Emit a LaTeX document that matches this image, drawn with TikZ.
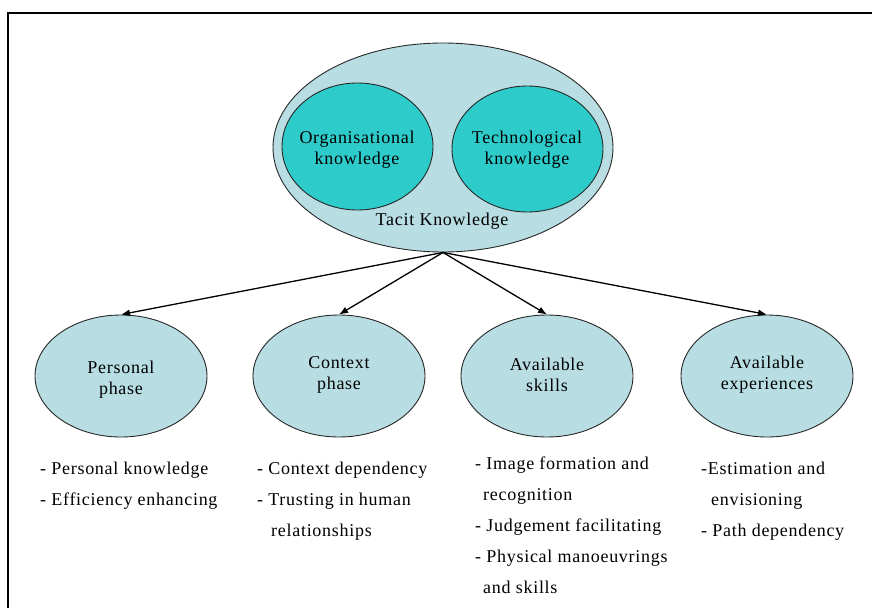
\documentclass[tikz,border=0pt]{standalone}
\usepackage{fontspec}
\setmainfont{Liberation Serif}[LetterSpace=4]
\usetikzlibrary{shapes.geometric,arrows.meta}
\definecolor{paleblue}{RGB}{184,222,227}
\definecolor{teal}{RGB}{46,203,203}
\definecolor{edge}{RGB}{40,40,40}
\begin{document}
\begin{tikzpicture}[x=1pt,y=-1pt,
  txt/.style={font=\fontsize{18}{21}\selectfont,text=black,align=center,inner sep=0pt},
  blob/.style={ellipse,draw=edge,line width=0.9pt,inner sep=0pt},
  outerblob/.style={blob,fill=paleblue},
  innerblob/.style={blob,fill=teal},
  phase/.style={blob,fill=paleblue,minimum width=172pt,minimum height=122pt},
  items/.style={txt,anchor=north west,align=left,
    font=\fontsize{18}{31}\selectfont},
  link/.style={draw=black,line width=1.3pt,-{Latex[length=9pt,width=7pt]}},
  frame/.style={draw=black,line width=1.6pt}]
\useasboundingbox (0,0) rectangle (872,610);
\path[fill=white] (0,0) rectangle (872,610);

% open frame: top and left rules
\coordinate (fa) at (872,13);
\coordinate (fb) at (8,13);
\coordinate (fc) at (8,608);
\draw[frame] (fa) -- (fb) -- (fc);

% tacit knowledge with its two parts
\node[outerblob,minimum width=340pt,minimum height=209pt] (tacit) at (443,147.5) {};
\node[innerblob,minimum width=151pt,minimum height=127pt] (org) at (357.5,146.5) {};
\node[innerblob,minimum width=151pt,minimum height=126pt] (tech) at (527.5,149) {};
\node[txt] (orgt) at (357,150) {Organisational\\knowledge};
\node[txt] (techt) at (527,150) {Technological\\knowledge};
\node[txt] (tacitlabel) at (442,221) {Tacit Knowledge};

% four dimensions
\node[phase] (pers) at (121,376) {};
\node[phase] (ctx) at (339,376) {};
\node[phase] (skill) at (547,376) {};
\node[phase] (exp) at (767,376) {};
\node[txt] (perst) at (121,380) {Personal\\phase};
\node[txt] (ctxt) at (339,375) {Context\\phase};
\node[txt] (skillt) at (547,375) {Available\\skills};
\node[txt] (expt) at (767,375) {Available\\experiences};

\draw[link] (tacit.south) -- (pers.north);
\draw[link] (tacit.south) -- (ctx.north);
\draw[link] (tacit.south) -- (skill.north);
\draw[link] (tacit.south) -- (exp.north);

% item lists below each dimension
\node[items] (persl) at (40,462) {- Personal knowledge\\- Efficiency enhancing};
\node[items] (ctxl) at (257,462) {- Context dependency\\- Trusting in human\\\hspace*{14pt}relationships};
\node[items] (skilll) at (475,457) {- Image formation and\\\hspace*{8pt}recognition\\- Judgement facilitating\\- Physical manoeuvrings\\\hspace*{8pt}and skills};
\node[items] (expl) at (701,462) {-Estimation and\\\hspace*{10pt}envisioning\\- Path dependency};
\end{tikzpicture}
\end{document}
